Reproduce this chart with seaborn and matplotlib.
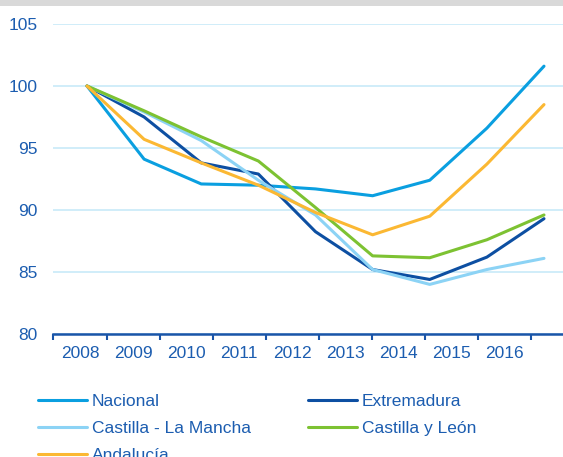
import matplotlib
matplotlib.use("Agg")
import matplotlib.pyplot as plt
import seaborn as sns
import pandas as pd
import numpy as np
from matplotlib.patches import Rectangle

years = ["2008", "2009", "2010", "2011", "2012", "2013", "2014", "2015", "2016"]
nacional = [100, 94.1, 92.1, 92.0, 91.7, 91.15, 92.4, 96.6, 101.6]
extremadura = [100, 97.5, 93.8, 92.9, 88.25, 85.2, 84.4, 86.2, 89.3]
clm = [100, 97.9, 95.6, 92.4, 89.6, 85.2, 84.0, 85.2, 86.1]
cyl = [100, 98.0, 95.9, 93.95, 90.2, 86.3, 86.15, 87.6, 89.6]
andalucia = [100, 95.7, 93.8, 92.0, 89.8, 88.0, 89.5, 93.7, 98.5]

series = {
    "Nacional": nacional,
    "Extremadura": extremadura,
    "Castilla - La Mancha": clm,
    "Castilla y León": cyl,
    "Andalucía": andalucia,
}
colors = {
    "Nacional": "#0A9FE0",
    "Extremadura": "#0D4FA2",
    "Castilla - La Mancha": "#8CD3F5",
    "Castilla y León": "#7DC232",
    "Andalucía": "#FBB833",
}
text_color = "#1C5DB0"

rows = []
for name, vals in series.items():
    for i, v in enumerate(vals):
        rows.append({"idx": i, "year": years[i], "value": v, "serie": name})
df = pd.DataFrame(rows)

sns.set_theme(style="white")
plt.rcParams["font.family"] = ["Liberation Sans", "DejaVu Sans"]

W, H = 563, 457
fig = plt.figure(figsize=(W / 100, H / 100), dpi=100)
ax_left, ax_right, ax_bottom, ax_top = 53, 563, 334, 24
ax = fig.add_axes([ax_left / W, 1 - ax_bottom / H, (ax_right - ax_left) / W, (ax_bottom - ax_top) / H])

# gray band at top
fig.patches.append(Rectangle((0, 1 - 6 / H), 1, 6 / H, transform=fig.transFigure,
                             facecolor="#D9D9D9", edgecolor="none", zorder=0))

sns.lineplot(data=df, x="idx", y="value", hue="serie", palette=colors,
             hue_order=list(series.keys()), linewidth=2.2, ax=ax, legend=False)

ax.set_ylim(80, 105)
ax.set_yticks([80, 85, 90, 95, 100, 105])
ax.yaxis.grid(True, color="#C8EAF8", linewidth=1.2)
ax.set_axisbelow(True)
ax.tick_params(axis="y", length=0, labelsize=12.5, labelcolor=text_color, pad=11)
ax.set_xlim(-(87 - 53) * 8 / 457, 8 + (563 - 544) * 8 / 457)
ax.set_xticks([])
ax.set_xlabel("")
ax.set_ylabel("")
for s in ["top", "right", "left"]:
    ax.spines[s].set_visible(False)
ax.spines["bottom"].set_color("#1A55A8")
ax.spines["bottom"].set_linewidth(1.8)

# category axis for the year labels
tw = ax.twiny()
tw.set_xlim((53 - 80) / 53.07, (563 - 80) / 53.07)
tw.xaxis.set_ticks_position("bottom")
tw.xaxis.set_label_position("bottom")
tw.set_xticks(range(len(years)))
tw.set_xticklabels(years)
tw.set_xticks(np.arange(-0.5, len(years) + 0.5, 1.0), minor=True)
tw.tick_params(axis="x", which="major", length=0, labelsize=12.5, labelcolor=text_color, pad=9)
tw.tick_params(axis="x", which="minor", length=4, width=1.5, color="#1A55A8", direction="out")
for s in tw.spines.values():
    s.set_visible(False)
tw.grid(False)

# legend
handles = {}
for name in series:
    handles[name] = plt.Line2D([], [], color=colors[name], linewidth=2.2)
order = ["Nacional", "Castilla - La Mancha", "Andalucía", "Extremadura", "Castilla y León"]
leg = fig.legend([handles[n] for n in order], order, ncol=2, loc="upper left",
                 bbox_to_anchor=(31 / W, 1 - 387 / H), frameon=False,
                 fontsize=12.5, handlelength=2.8, handletextpad=0.3,
                 columnspacing=3.3, labelspacing=0.68, borderaxespad=0)
for t in leg.get_texts():
    t.set_color(text_color)

fig.savefig("out.png", dpi=100)
